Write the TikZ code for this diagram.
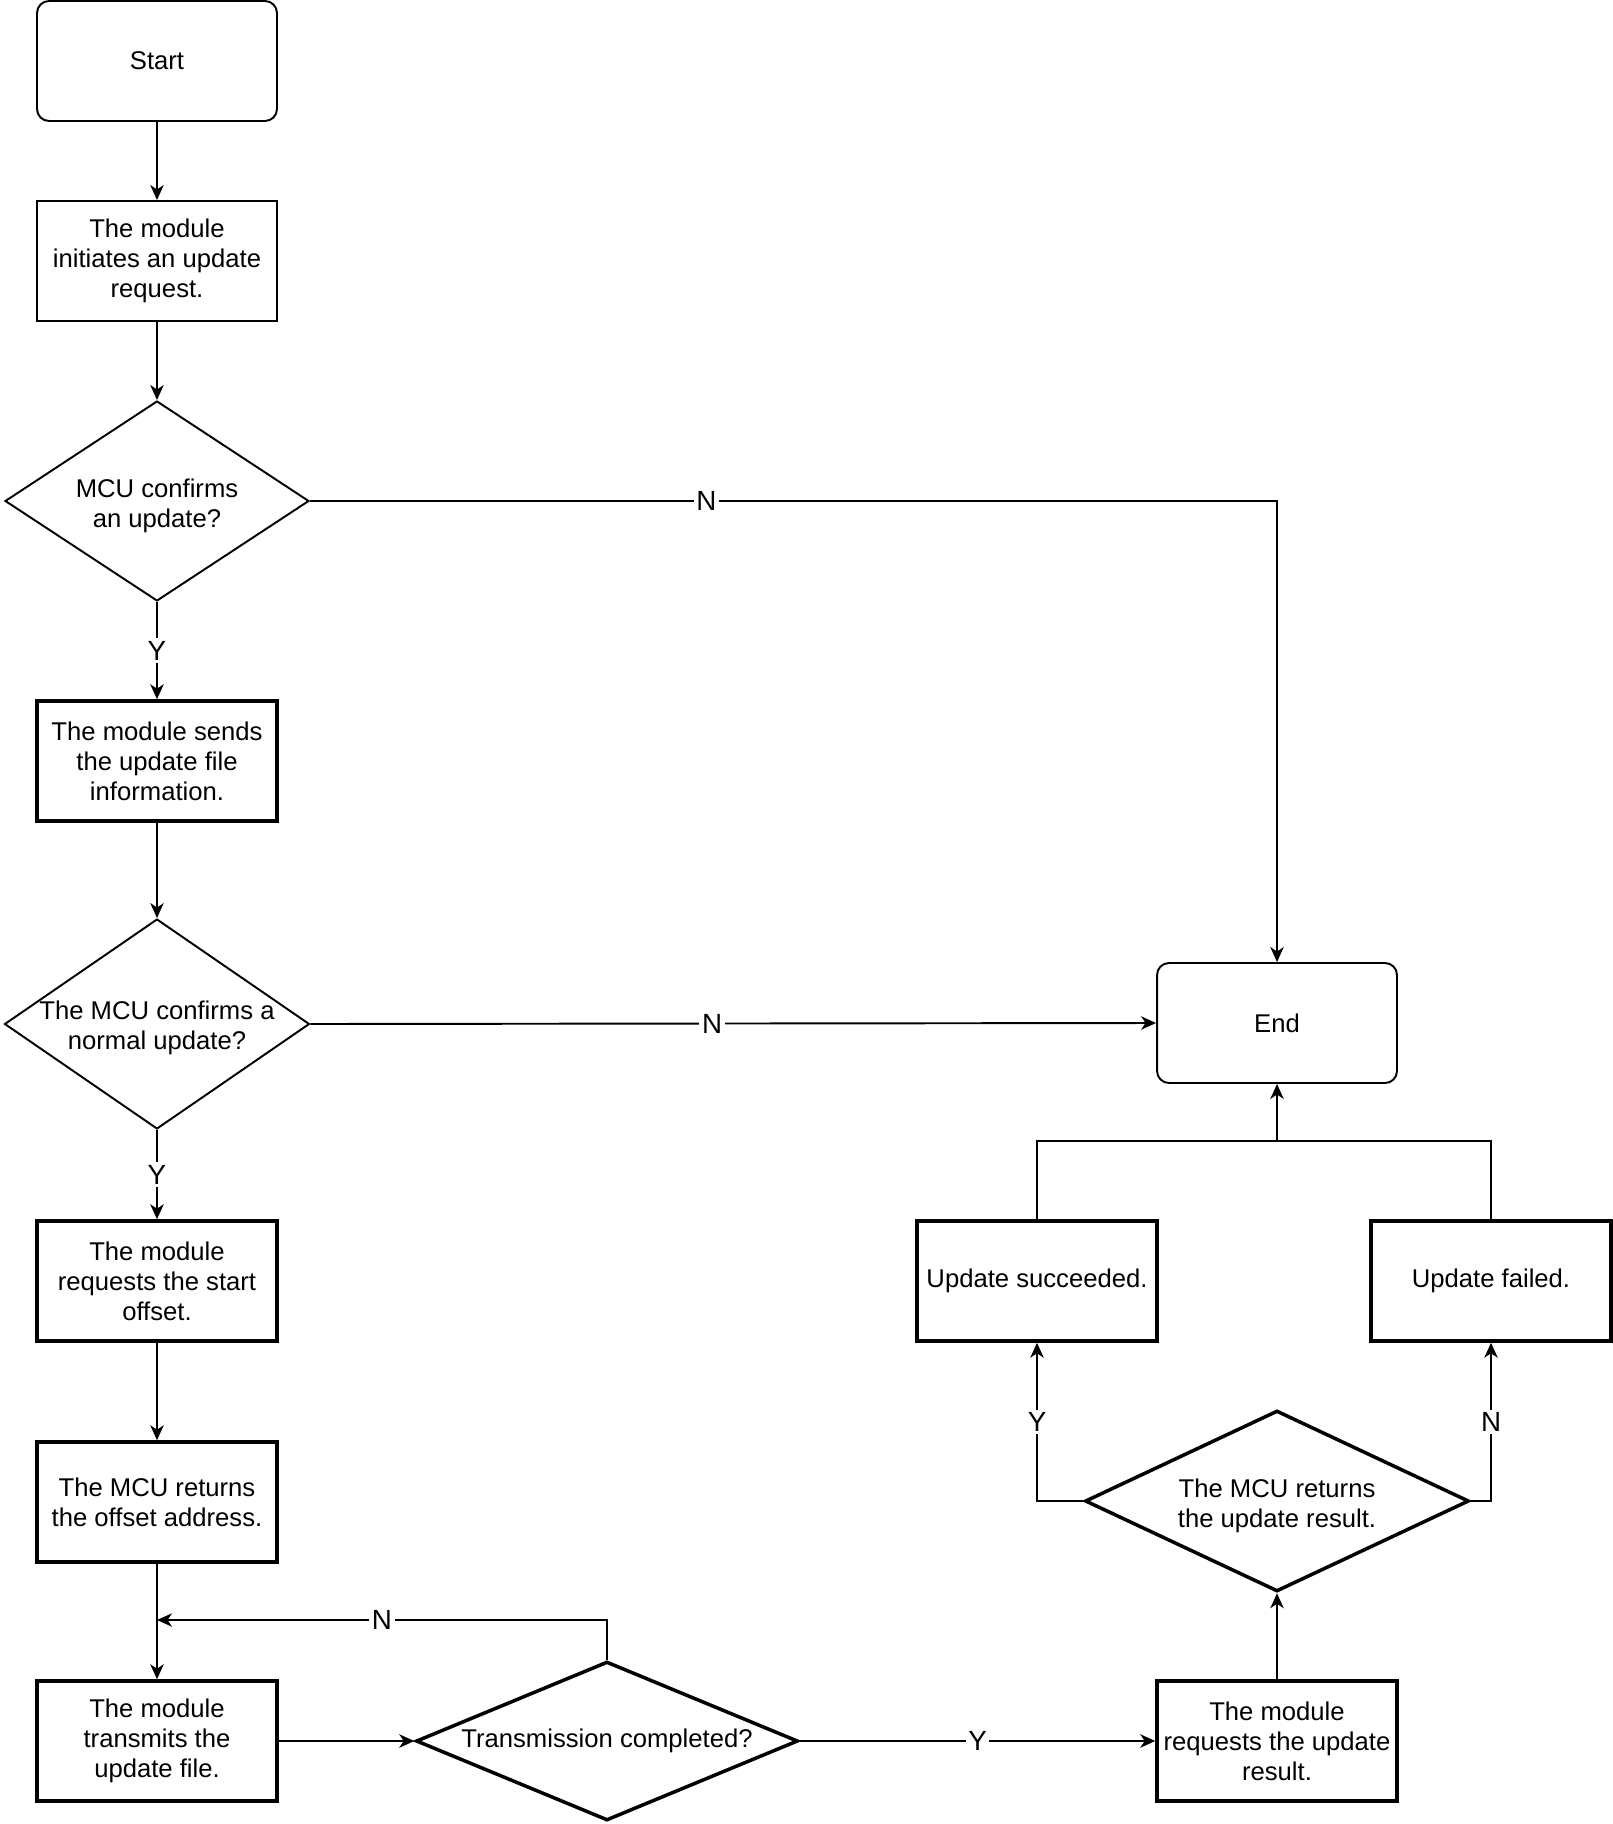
\documentclass[tikz,border=0pt]{standalone}
\usepackage{fontspec}
\setmainfont{Liberation Sans}
\usetikzlibrary{shapes.geometric,arrows.meta}

\tikzset{
  every node/.style={font=\fontsize{14.6}{17.1}\selectfont},
  startstop/.style={draw, rounded corners=6.8pt, line width=1.1pt, minimum width=4.8cm, minimum height=2.4cm, align=center},
  process/.style={draw, line width=1.1pt, minimum width=4.8cm, minimum height=2.4cm, align=center, inner sep=0pt},
  processb/.style={process, line width=2pt},
  decision/.style={diamond, draw, line width=1.1pt, inner sep=0pt},
  decisionb/.style={decision, line width=2pt},
  line/.style={line width=1.1pt},
  arrow/.style={line, -{Stealth[length=8.5pt, width=7.6pt, inset=2.5pt]}},
  yn/.style={fill=white, inner sep=1.5pt, font=\fontsize{15.8}{18}\selectfont},
}

\begin{document}
\begin{tikzpicture}[x=0.02cm, y=-0.02cm]
    \useasboundingbox (0,0) rectangle (1612,1824);

    % Left column
    \node[startstop] (start) at (157,61) {Start};
    \node[process] (init) at (157,261) {The module\\initiates an update\\request.};
    \node[decision, minimum width=6.08cm, minimum height=4cm,
          label={[align=center, yshift=-3pt]center:MCU confirms\\an update?}] (confirm) at (157,501) {};
    \node[processb] (sendinfo) at (157,761) {The module sends\\the update file\\information.};
    \node[decision, minimum width=6.1cm, minimum height=4.2cm,
          label={[align=center, yshift=-2pt]center:The MCU confirms a\\normal update?}] (normal) at (157,1024) {};
    \node[processb] (reqoffset) at (157,1281) {The module\\requests the start\\offset.};
    \node[processb] (retoffset) at (157,1502) {The MCU returns\\the offset address.};
    \node[processb] (transmit) at (157,1741) {The module\\transmits the\\update file.};

    % Bottom row
    \node[decisionb, minimum width=7.64cm, minimum height=3.18cm,
          label={center:Transmission completed?}] (done) at (607,1741) {};
    \node[processb] (reqresult) at (1277,1741) {The module\\requests the update\\result.};

    % Right column
    \node[decisionb, minimum width=7.68cm, minimum height=3.62cm,
          label={[align=center, yshift=-3pt]center:The MCU returns\\the update result.}] (result) at (1277,1501) {};
    \node[processb] (success) at (1037,1281) {Update succeeded.};
    \node[processb] (failed) at (1491,1281) {Update failed.};
    \node[startstop] (end) at (1277,1023) {End};

    \coordinate (loop) at (157,1620);
    \coordinate (join) at (1277,1141);

    % Connectors
    \draw[arrow] (start) -- (init);
    \draw[arrow] (init) -- (confirm);
    \draw[arrow] (confirm) -- node[yn, midway] {Y} (sendinfo);
    \draw[arrow] (sendinfo) -- (normal);
    \draw[arrow] (normal) -- node[yn, midway] {Y} (reqoffset);
    \draw[arrow] (reqoffset) -- (retoffset);
    \draw[arrow] (retoffset) -- (transmit);
    \draw[arrow] (transmit) -- (done);
    \draw[arrow] (done.north) |- node[yn, pos=0.75] {N} (loop);
    \draw[arrow] (done) -- node[yn, midway] {Y} (reqresult);
    \draw[arrow] (reqresult) -- (result);
    \draw[arrow] (result.west) -| node[yn, pos=0.75] {Y} (success.south);
    \draw[arrow] (result.east) -| node[yn, pos=0.75] {N} (failed.south);
    \draw[line] (success.north) |- (join);
    \draw[line] (failed.north) |- (join);
    \draw[arrow] (join) -- (end.south);
    \draw[arrow] (confirm.east) -| node[yn, pos=0.205] {N} (end.north);
    \draw[arrow] (normal.east) -- node[yn, pos=0.475] {N} (end.west);
\end{tikzpicture}
\end{document}
